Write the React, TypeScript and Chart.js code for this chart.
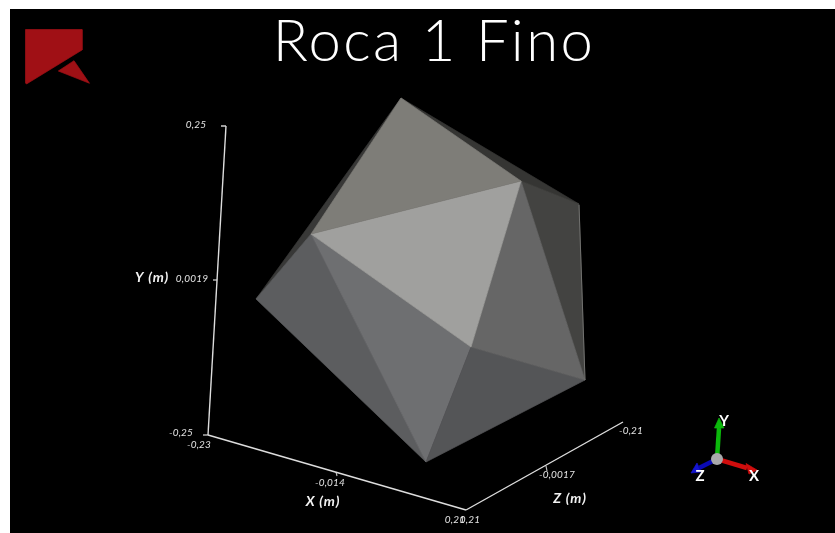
import React, { useEffect, useRef } from "react";
import { Chart, registerables } from "chart.js";

Chart.register(...registerables);

const titleText = "Roca 1 Fino";

// Projected polyhedron vertices, in the picture's own units
const vertexNames = ["A", "B", "C", "D", "E", "F", "G", "H"];
const vertexX = [401, 521, 579, 585, 471, 426, 256, 311];
const vertexY = [98, 181, 204, 380, 347, 462, 299, 234];

// Faces as vertex names
const faceNames = ["AHB", "HBE", "BED", "BCD", "ACB", "EDF", "EFH", "HFG", "GAH"];
const faceColors = ["#7e7d78", "#a0a09e", "#666666", "#434341", "#353533", "#545557", "#6e6f71", "#5c5d5f", "#383837"];

// Plot frame axes
const axisLineX = [226, 221];
const axisLineY = [126, 126];
const yAxisX = [226, 208];
const yAxisY = [126, 435];
const xAxisX = [208, 466];
const xAxisY = [435, 510];
const zAxisX = [466, 623];
const zAxisY = [510, 422];
const yMidTickX = [213, 217];
const yMidTickY = [280, 280];
const yLowTickX = [203, 208];
const yLowTickY = [435, 435];
const xMidTickX = [336, 337];
const xMidTickY = [472, 476];
const zMidTickX = [546, 547];
const zMidTickY = [466, 471];
const rimX = [579, 585];
const rimY = [205, 380];

// Logo
const logoBigX = [25.5, 82, 82, 26.5, 25.5];
const logoBigY = [29.5, 29.5, 50, 84, 83];
const logoSmallX = [74, 89.5, 58.3];
const logoSmallY = [60.7, 83.3, 71];

// Orientation triad
const triadOriginX = 717;
const triadOriginY = 459;
const triadYTipX = 719;
const triadYTipY = 428;
const triadXTipX = 747;
const triadXTipY = 468;
const triadZTipX = 699;
const triadZTipY = 468;
const arrowYX = [719, 714.5, 724];
const arrowYY = [418, 428, 428];
const arrowXX = [757, 746, 749];
const arrowXY = [470, 463.5, 474];
const arrowZX = [691, 697, 701];
const arrowZY = [473, 463, 472];

// Texts: content, anchor x, anchor y
const tickTexts = ["0,25", "0,0019", "-0,25", "-0,23", "-0,014", "0,21", "0,21", "-0,0017", "-0,21"];
const tickTextX = [196, 192, 181, 199, 330, 455, 470, 557, 631];
const tickTextY = [125, 279, 433, 445, 483, 520, 520, 475, 431];
const axisTexts = ["Y (m)", "X (m)", "Z (m)"];
const axisTextX = [152, 323, 570];
const axisTextY = [277, 501, 498];
const triadTexts = ["Y", "X", "Z"];
const triadTextX = [724, 754, 700];
const triadTextY = [421, 476, 476];
const titleX = [434];
const titleY = [42];

const zip = (xs: number[], ys: number[]) => xs.map((x, i) => ({ x, y: ys[i] }));

const polygon = (data: { x: number; y: number }[], color: string) => ({
  data: [...data, data[0]],
  showLine: true,
  fill: "shape",
  backgroundColor: color,
  borderColor: color,
  borderWidth: 0.7,
  pointRadius: 0,
  tension: 0,
});

const line = (xs: number[], ys: number[], color: string, width: number) => ({
  data: zip(xs, ys),
  showLine: true,
  fill: false,
  borderColor: color,
  backgroundColor: color,
  borderWidth: width,
  pointRadius: 0,
  tension: 0,
});

const textPlugin = {
  id: "sceneTexts",
  afterDatasetsDraw(chart: any) {
    const { ctx, scales } = chart;
    const put = (texts: string[], xs: number[], ys: number[], font: string, color: string, spacing: string) => {
      ctx.save();
      ctx.font = font;
      ctx.fillStyle = color;
      ctx.textAlign = "center";
      ctx.textBaseline = "middle";
      ctx.letterSpacing = spacing;
      texts.forEach((t, i) => {
        ctx.fillText(t, scales.x.getPixelForValue(xs[i]), scales.y.getPixelForValue(ys[i]));
      });
      ctx.restore();
    };
    put([titleText], titleX, titleY, "300 58px Lato", "#ffffff", "2.4px");
    put(tickTexts, tickTextX, tickTextY, "italic 10px Lato", "#e4e4e4", "0.2px");
    put(axisTexts, axisTextX, axisTextY, "italic 700 14px Lato", "#f2f2f2", "0.8px");
    put(triadTexts, triadTextX, triadTextY, "700 15px Lato", "#ffffff", "0px");
  },
};

export default function App() {
  const ref = useRef<HTMLCanvasElement | null>(null);
  useEffect(() => {
    const faces = faceNames.map((f, i) =>
      polygon(
        f.split("").map((n) => {
          const k = vertexNames.indexOf(n);
          return { x: vertexX[k], y: vertexY[k] };
        }),
        faceColors[i]
      )
    );
    const chart = new Chart(ref.current as HTMLCanvasElement, {
      type: "scatter",
      data: {
        datasets: [
          {
            data: [{ x: triadOriginX, y: triadOriginY }],
            pointRadius: 6,
            pointBackgroundColor: "#a9a9ab",
            pointBorderWidth: 0,
          },
          line([triadOriginX, triadYTipX], [triadOriginY, triadYTipY], "#0bb80b", 4.5),
          line([triadOriginX, triadXTipX], [triadOriginY, triadXTipY], "#d00d0d", 4.5),
          line([triadOriginX, triadZTipX], [triadOriginY, triadZTipY], "#0a0ab4", 4.5),
          polygon(zip(arrowYX, arrowYY), "#0bb80b"),
          polygon(zip(arrowXX, arrowXY), "#d00d0d"),
          polygon(zip(arrowZX, arrowZY), "#1414d0"),
          polygon(zip(logoBigX, logoBigY), "#a01015"),
          polygon(zip(logoSmallX, logoSmallY), "#a01015"),
          line(axisLineX, axisLineY, "#dddddd", 1.4),
          line(yAxisX, yAxisY, "#dddddd", 1.4),
          line(xAxisX, xAxisY, "#dddddd", 1.4),
          line(zAxisX, zAxisY, "#dddddd", 1.4),
          line(yMidTickX, yMidTickY, "#dddddd", 1.2),
          line(yLowTickX, yLowTickY, "#dddddd", 1.2),
          line(xMidTickX, xMidTickY, "#bbbbbb", 1.2),
          line(zMidTickX, zMidTickY, "#bbbbbb", 1.2),
          line(rimX, rimY, "#727270", 1),
          ...faces,
        ] as any,
      },
      options: {
        animation: false,
        responsive: false,
        layout: { autoPadding: false, padding: 0 },
        plugins: {
          legend: { display: false },
          tooltip: { enabled: false },
          title: { display: false },
        },
        scales: {
          x: { type: "linear", display: false, min: 10, max: 835 },
          y: { type: "linear", display: false, reverse: true, min: 9, max: 533 },
        },
      } as any,
      plugins: [textPlugin],
    });
    return () => chart.destroy();
  }, []);
  return (
    <canvas
      ref={ref}
      width={825}
      height={524}
      style={{ position: "fixed", left: 10, top: 9, width: 825, height: 524, background: "#000000" }}
    />
  );
}
